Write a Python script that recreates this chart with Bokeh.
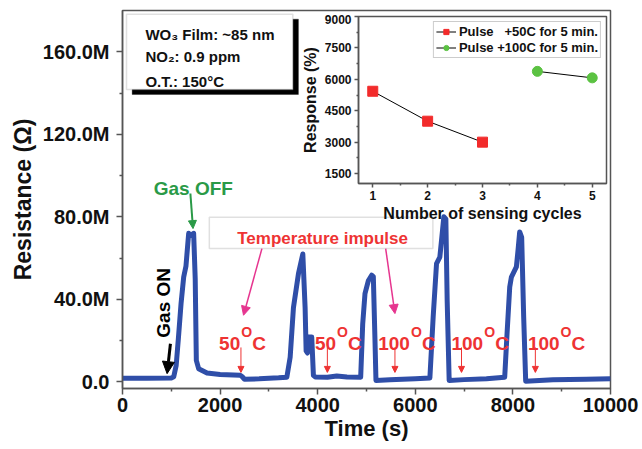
import math
from bokeh.plotting import figure
from bokeh.models import (Range1d, FixedTicker, CustomJSTickFormatter, Label, Arrow, NormalHead,
                          BoxAnnotation, Legend, LegendItem, GridBox, Column)
from bokeh.embed import file_html
from bokeh.resources import INLINE

FONT = "Liberation Sans"

# ---------------- data ----------------
time_s = [0, 500, 1000, 1050, 1100, 1145, 1200, 1254, 1300, 1356, 1400, 1458, 1490, 1513, 1560, 1732, 2000,
          2413, 2450, 2500, 2800, 3200, 3368,
          3436, 3503, 3606, 3695, 3742, 3763, 3790, 3810, 3878, 3912, 3950, 4200, 4390, 4600, 4881,
          4922, 4969, 5037, 5106, 5140, 5174, 5194, 5480, 6000, 6299,
          6366, 6435, 6503, 6558, 6585, 6626, 6653, 6694, 7000, 7458, 7832,
          7880, 7935, 7969, 8071, 8105, 8139, 8180, 8221, 8262, 8820, 9500, 10000]
resistance_M = [1.8, 1.8, 1.9, 2.5, 8, 21, 38, 50.8, 56, 72, 71, 72, 50, 10.4, 6.4, 4.3, 3.6,
                3.2, 2.6, 1.3, 1.5, 2.0, 2.3,
                12, 36, 52.5, 62, 36, 15, 14, 21.7, 21.7, 3.2, 2.4, 2.3, 2.9, 2.4, 2.3,
                28, 42.8, 49, 51.7, 51, 20, 0.7, 1.0, 1.5, 1.9,
                31.4, 57.3, 60.5, 73.5, 80, 79, 39.5, 0.7, 1.1, 1.55, 2.3,
                23.4, 46, 50.8, 55.7, 63.8, 72.7, 70, 31.4, 0.3, 1.07, 1.3, 1.55]

cycles_50 = [1, 2, 3]
response_50 = [5430, 4000, 3000]
cycles_100 = [4, 5]
response_100 = [6380, 6070]

impulse_time = [2427, 4198, 5583, 6947, 8460]
impulse_temp = ["50", "50", "100", "100", "100"]
impulse_label_x = [2413, 4376, 5890, 7390, 8957]

x_ticks = [0, 2000, 4000, 6000, 8000, 10000]
x_minor = [1000, 3000, 5000, 7000, 9000]
y_ticks = [0, 40, 80, 120, 160]
y_minor = [20, 60, 100, 140]

inset_x_ticks = [1, 2, 3, 4, 5]
inset_x_minor = [1.5, 2.5, 3.5, 4.5]
inset_y_ticks = [1500, 3000, 4500, 6000, 7500, 9000]
inset_y_minor = [2250, 3750, 5250, 6750, 8250]

AX = "#555555"
TXT = "#111111"
RED = "#EE3333"
GREEN = "#2A9A47"
PINK = "#E6358F"
BLUE = "#2F4EA8"


def style_axis(ax, lab_size, title_size, tick_out, minor_out):
    ax.axis_line_color = AX
    ax.axis_line_width = 1.5
    ax.major_tick_line_color = AX
    ax.major_tick_line_width = 1.5
    ax.minor_tick_line_color = AX
    ax.minor_tick_line_width = 1.5
    ax.major_tick_in = 0
    ax.major_tick_out = tick_out
    ax.minor_tick_in = 0
    ax.minor_tick_out = minor_out
    ax.major_label_text_font = FONT
    ax.major_label_text_font_style = "bold"
    ax.major_label_text_font_size = lab_size
    ax.major_label_text_color = TXT
    ax.axis_label_text_font = FONT
    ax.axis_label_text_font_style = "bold"
    ax.axis_label_text_font_size = title_size
    ax.axis_label_text_color = TXT


# ---------------- main figure ----------------
p = figure(width=642, height=449, x_range=Range1d(0, 10000), y_range=Range1d(-3.2, 180),
           output_backend="svg", toolbar_location=None,
           min_border_left=122, min_border_right=32, min_border_top=10, min_border_bottom=61)
p.xgrid.visible = False
p.ygrid.visible = False
p.outline_line_color = AX
p.outline_line_width = 1.5
p.background_fill_color = "white"

p.line(time_s, resistance_M, line_color=BLUE, line_width=5, line_join="round")

style_axis(p.xaxis[0], "20px", "22px", 6, 3)
style_axis(p.yaxis[0], "20px", "23px", 6, 3)
p.xaxis.ticker = FixedTicker(ticks=x_ticks, minor_ticks=x_minor)
p.yaxis.ticker = FixedTicker(ticks=y_ticks, minor_ticks=y_minor)
p.yaxis.formatter = CustomJSTickFormatter(code="return tick === 0 ? '0.0' : tick.toFixed(1) + 'M';")
p.xaxis.axis_label = "Time (s)"
p.yaxis.axis_label = "Resistance (Ω)"
p.xaxis.major_label_standoff = 3
p.xaxis.axis_label_standoff = 1
p.yaxis.major_label_standoff = 7
p.yaxis.axis_label_standoff = 4

# info box with shadow
p.add_layout(BoxAnnotation(left=198, right=3605, bottom=139.3, top=175.8,
                           fill_color="black", fill_alpha=1, line_color="black", level="annotation"))
p.add_layout(BoxAnnotation(left=82, right=3491, bottom=141.7, top=178.2,
                           fill_color="white", fill_alpha=1, line_color="#999999", line_width=1.5,
                           level="annotation"))
for txt, yy in [("WO₃ Film: ~85 nm", 168.4), ("NO₂: 0.9 ppm", 157.6), ("O.T.: 150°C", 145.6)]:
    p.add_layout(Label(x=470, y=yy, text=txt, text_font=FONT, text_font_style="bold",
                       text_font_size="15px", text_color=TXT, text_baseline="alphabetic"))

# Gas OFF
p.add_layout(Label(x=1452, y=93.8, text="Gas OFF", text_font=FONT, text_font_style="bold",
                   text_font_size="19px", text_color=GREEN, text_align="center",
                   text_baseline="alphabetic"))
p.add_layout(Arrow(x_start=1391, y_start=91.3, x_end=1445, y_end=74.3, line_color=GREEN, line_width=2,
                   end=NormalHead(size=8, fill_color=GREEN, line_color=GREEN)))

# Gas ON
p.add_layout(Label(x=845, y=38.3, text="Gas ON", angle=math.pi / 2, text_font=FONT,
                   text_font_style="bold", text_font_size="19px", text_color="black",
                   text_align="center", text_baseline="middle"))
p.add_layout(Arrow(x_start=982, y_start=18.5, x_end=914, y_end=4.0, line_color="black", line_width=3,
                   end=NormalHead(size=12, fill_color="black", line_color="black")))

# Temperature impulse box
p.add_layout(BoxAnnotation(left=1779, right=6360, bottom=64.7, top=79.8,
                           fill_color="white", fill_alpha=1, line_color="#999999", line_width=1.5,
                           level="annotation"))
p.add_layout(Label(x=4100, y=69.6, text="Temperature impulse", text_font=FONT, text_font_style="bold",
                   text_font_size="17px", text_color=RED, text_align="center",
                   text_baseline="alphabetic"))
p.add_layout(Arrow(x_start=2857, y_start=64.6, x_end=2480, y_end=32.3, line_color=PINK, line_width=1.5,
                   end=NormalHead(size=9, fill_color=PINK, line_color=PINK)))
p.add_layout(Arrow(x_start=5393, y_start=64.6, x_end=5583, y_end=33.1, line_color=PINK, line_width=1.5,
                   end=NormalHead(size=9, fill_color=PINK, line_color=PINK)))

# impulse markers and temperature labels
for t, temp, lx in zip(impulse_time, impulse_temp, impulse_label_x):
    p.add_layout(Arrow(x_start=t, y_start=16.7, x_end=t, y_end=4.6, line_color=RED, line_width=1,
                       end=NormalHead(size=6, fill_color=RED, line_color=RED)))
    p.add_layout(Label(x=lx, y=18.7, text=temp, text_font=FONT, text_font_style="bold",
                       text_font_size="19px", text_color=RED, text_align="right",
                       text_baseline="alphabetic"))
    p.add_layout(Label(x=lx, y=18.7, x_offset=1, y_offset=11, text="O", text_font=FONT,
                       text_font_style="bold", text_font_size="14px", text_color=RED,
                       text_align="left", text_baseline="alphabetic"))
    p.add_layout(Label(x=lx, y=18.7, x_offset=12, text="C", text_font=FONT, text_font_style="bold",
                       text_font_size="19px", text_color=RED, text_align="left",
                       text_baseline="alphabetic"))

# ---------------- inset ----------------
inset = figure(width=310, height=213, x_range=Range1d(0.74, 5.26), y_range=Range1d(1025, 9000),
               output_backend="svg", toolbar_location=None,
               min_border_left=58, min_border_right=2, min_border_top=2, min_border_bottom=44)
inset.xgrid.visible = False
inset.ygrid.visible = False
inset.border_fill_color = None
inset.background_fill_color = "white"
inset.outline_line_color = AX
inset.outline_line_width = 1.5

style_axis(inset.xaxis[0], "12px", "16px", 4, 2)
style_axis(inset.yaxis[0], "12px", "16px", 4, 2)
inset.xaxis.ticker = FixedTicker(ticks=inset_x_ticks, minor_ticks=inset_x_minor)
inset.yaxis.ticker = FixedTicker(ticks=inset_y_ticks, minor_ticks=inset_y_minor)
inset.xaxis.axis_label = "Number of sensing cycles"
inset.yaxis.axis_label = "Response (%)"
inset.xaxis.major_label_standoff = 3
inset.xaxis.axis_label_standoff = 2
inset.yaxis.major_label_standoff = 3
inset.yaxis.axis_label_standoff = 3

r1l = inset.line(cycles_50, response_50, line_color="black", line_width=1)
r1s = inset.scatter(cycles_50, response_50, marker="square", size=10,
                    fill_color="#F22B2B", line_color="#F22B2B")
r2l = inset.line(cycles_100, response_100, line_color="black", line_width=1)
r2s = inset.scatter(cycles_100, response_100, marker="circle", size=10,
                    fill_color="#5BC242", line_color="#5BC242")

legend = Legend(items=[LegendItem(label="Pulse   +50C for 5 min.", renderers=[r1l, r1s]),
                       LegendItem(label="Pulse +100C for 5 min.", renderers=[r2l, r2s])],
                location="top_right", margin=5, padding=2, spacing=1,
                glyph_width=20, glyph_height=13, label_height=13, label_standoff=3,
                label_text_font=FONT, label_text_font_style="bold", label_text_font_size="13px",
                label_text_color=TXT, border_line_color="#999999", border_line_width=1.5,
                background_fill_color="white", background_fill_alpha=1)
inset.add_layout(legend)

inset_box = Column(children=[inset],
                   styles={"position": "absolute", "left": "298px", "top": "14px"})
layout = GridBox(children=[(p, 0, 0), (inset_box, 0, 0)], styles={"position": "relative"})

open("out.html", "w").write(file_html(layout, INLINE))
